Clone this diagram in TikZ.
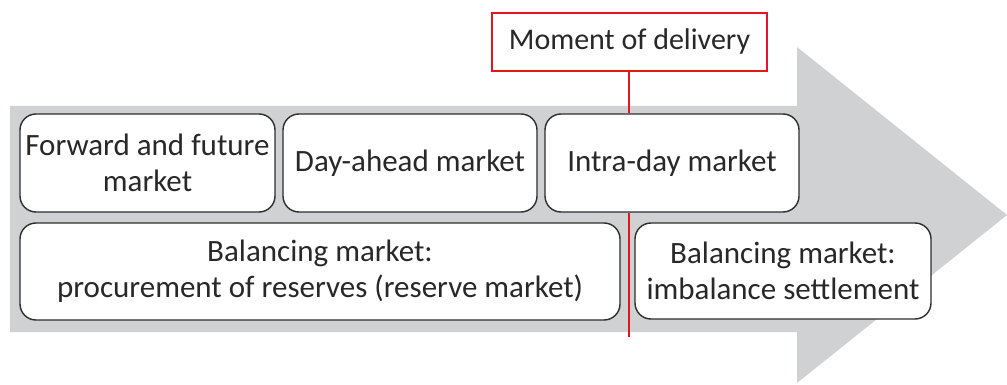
\documentclass[tikz,border=0pt]{standalone}
\usepackage{fontspec}
\setmainfont{Carlito}
\definecolor{arrowgray}{RGB}{208,209,211}
\definecolor{boxline}{RGB}{45,45,45}
\definecolor{txt}{RGB}{40,40,40}
\definecolor{mred}{RGB}{230,20,30}
\tikzset{
  mkt/.style={draw=boxline, line width=1.4pt, fill=white, rounded corners=16pt,
    text=txt, align=center, font=\fontsize{31}{36}\selectfont, inner sep=0pt},
  redbox/.style={draw=mred, line width=2.2pt, fill=white, text=txt,
    font=\fontsize{30}{36}\selectfont, inner sep=0pt},
  redline/.style={draw=mred, line width=2.2pt}
}
\begin{document}
\begin{tikzpicture}[x=1pt,y=-1pt]
\useasboundingbox (0,0) rectangle (1007,385);
% big process arrow
\fill[arrowgray] (10,106) -- (797,106) -- (797,47) -- (1007,215) -- (797,383) -- (797,332) -- (10,332) -- cycle;
% market boxes
\node[mkt, minimum width=255pt, minimum height=98pt] (fwd) at (147.5,163) {Forward and future\\market};
\node[mkt, minimum width=254pt, minimum height=98pt] (dam) at (410,163) {Day-ahead market};
\node[mkt, minimum width=254pt, minimum height=98pt] (idm) at (672,163) {Intra-day market};
\node[mkt, minimum width=600pt, minimum height=97pt] (bal) at (320,271.5) {Balancing market:\\procurement of reserves (reserve market)};
\node[mkt, minimum width=296pt, minimum height=96pt] (imb) at (783,271) {Balancing market:\\imbalance settlement};
% moment of delivery
\node[redbox, minimum width=275pt, minimum height=58pt] (mod) at (629.5,42) {Moment of delivery};
\coordinate (cutend) at (629,337);
\draw[redline] (mod.south -| 629,0) -- (idm.north -| 629,0);
\draw[redline] (idm.south -| 629,0) -- (cutend);
\end{tikzpicture}
\end{document}
